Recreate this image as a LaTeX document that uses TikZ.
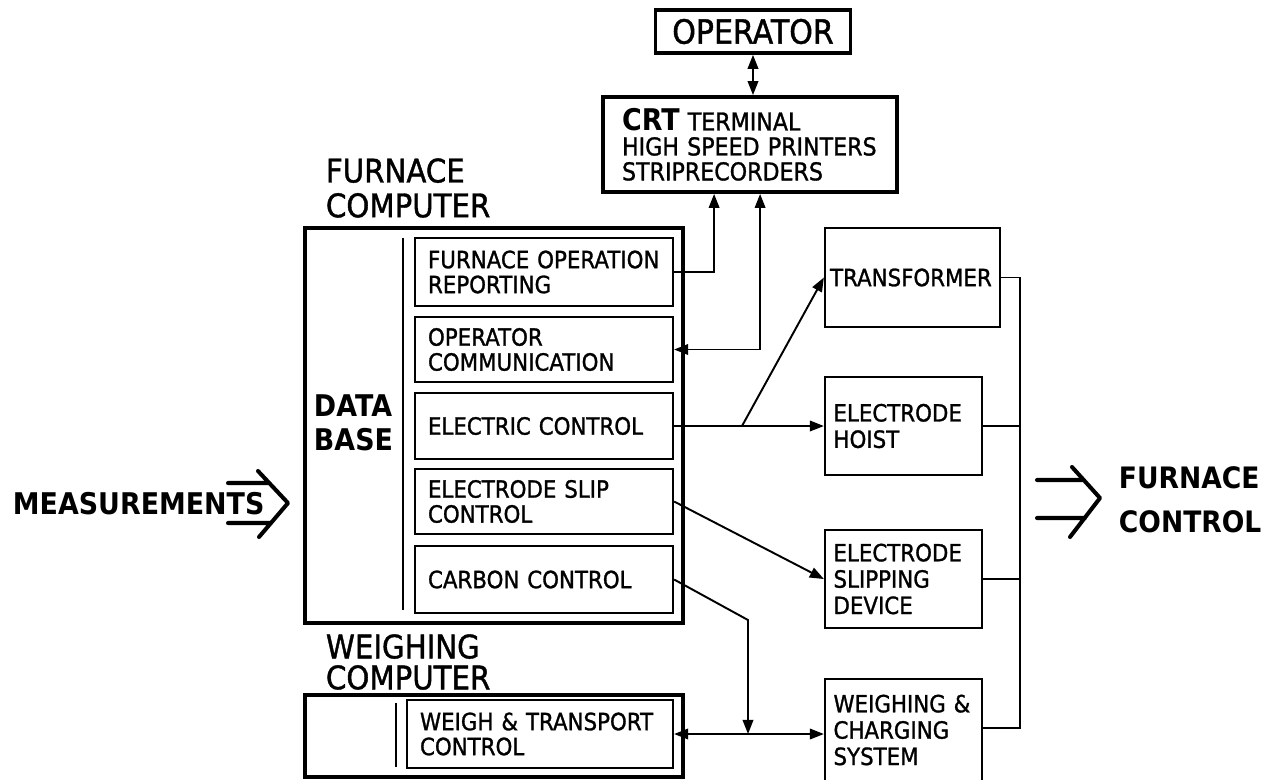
\documentclass[tikz,border=0pt]{standalone}
\usepackage{fontspec}
\setmainfont{DejaVu Sans}[FakeStretch=0.9, UprightFeatures={FakeBold=1.2}]
\usetikzlibrary{arrows.meta}

\begin{document}
\begin{tikzpicture}[x=0.02cm, y=-0.02cm, line width=1.1pt,
  >={Triangle[length=8pt,width=6pt]},
  lbl/.style={font=\fontsize{18.5}{19.8}\selectfont, align=left, inner sep=0pt, anchor=west},
  iolbl/.style={font=\bfseries\fontsize{16.8}{25}\selectfont, align=left, inner sep=0pt, anchor=west},
  compbox/.style={line width=2.4pt},
  subbox/.style={draw, line width=1.3pt, align=left, inner xsep=0.26cm, inner ysep=0pt,
    text width=4.64cm, font=\fontsize{13.5}{14.2}\selectfont},
  plant/.style={draw, line width=1.3pt, align=left, inner xsep=0.17cm, inner ysep=0pt,
    text width=2.8cm, font=\fontsize{13.5}{15}\selectfont},
  hollow/.style={line width=2.3pt, line join=round, line cap=round}]
  \useasboundingbox (0,0) rectangle (1278,779);

  \node[draw, line width=2pt, minimum width=3.9cm, minimum height=0.86cm,
    font=\fontsize{19}{20}\selectfont] (op) at (753,31.5) {OPERATOR};
  \node[draw, line width=2.2pt, minimum width=5.88cm, minimum height=1.9cm, inner xsep=0.38cm,
    text width=5.12cm, align=left, font=\fontsize{14}{14.2}\selectfont] (crt) at (750,144.5)
    {{\bfseries\fontsize{17}{17}\selectfont CRT} TERMINAL\\HIGH SPEED PRINTERS\\STRIPRECORDERS};
  \draw[<->] (op.south) -- (op.south |- crt.north);

  \node[lbl] (fclbl) at (325,188) {FURNACE\\COMPUTER};
  \draw[compbox] (305,228) rectangle (683,623);
  \draw (403,238) -- (403,610);
  \node[iolbl, font=\bfseries\fontsize{17}{19}\selectfont] (db) at (313,423) {DATA\\BASE};
  \foreach \nm/\ya/\yb/\txt in {rep/238/306/{FURNACE OPERATION\\REPORTING},
                                com/317/382/{OPERATOR\\COMMUNICATION},
                                elec/393/459/{ELECTRIC CONTROL},
                                slip/469/534/{ELECTRODE SLIP\\CONTROL},
                                carb/546/613/{CARBON CONTROL}} {
    \node[subbox, minimum width=5.16cm, minimum height={(\yb-\ya)*0.02cm}] (\nm) at (544,{(\ya+\yb)/2}) {\txt};
  }

  \node[lbl, font=\fontsize{18.5}{17.6}\selectfont] (wclbl) at (325,662) {WEIGHING\\COMPUTER};
  \draw[compbox] (305,695) rectangle (683,777);
  \draw (396,703) -- (396,767);
  \node[subbox, text width=4.8cm, minimum width=5.32cm, minimum height=1.36cm] (wtc) at (540,734)
    {WEIGH \& TRANSPORT\\CONTROL};

  \node[plant, text width=3.3cm, inner xsep=0.1cm, minimum height=1.98cm] (trans) at (912.5,277.5) {TRANSFORMER};
  \node[plant, minimum height=1.96cm] (hoist) at (903.5,426) {ELECTRODE\\HOIST};
  \node[plant, minimum height=1.96cm] (slipdev) at (903.5,579) {ELECTRODE\\SLIPPING\\DEVICE};
  \node[plant, inner ysep=0.32cm] (wcs) at (903.5,730) {WEIGHING \&\\CHARGING\\SYSTEM};

  \path (crt.south west) ++(113,0) coordinate (crtA) ++(46,0) coordinate (crtB);
  \draw[->] (rep.east) -| (crtA);
  \draw[<->] (com.east) -| (crtB);
  \coordinate (fork) at (742,426);
  \draw[->] (elec.east) -- (hoist.west);
  \draw[->] (fork) -- (trans.west);
  \draw[->] (slip.east) -- (slipdev.west);
  \coordinate (kink) at (748,620);
  \coordinate (join) at (748,734);
  \draw[->] (carb.east) -- (kink) -- (join);
  \draw[<->] (wtc.east) -- (wtc.east -| wcs.west);

  \coordinate (busB) at (1020,728);
  \draw (trans.east) -| (busB) -- (busB -| wcs.east);
  \draw (hoist.east) -- (hoist.east -| busB);
  \draw (slipdev.east) -- (slipdev.east -| busB);

  \node[iolbl, font=\bfseries\fontsize{17}{18}\selectfont] (meas) at (12,504) {MEASUREMENTS};
  \draw[hollow] (228,483) -- (269,483) (228,523) -- (271,523) (258,471) -- (288,503) -- (259,537);
  \draw[hollow] (1037,480) -- (1083,480) (1037,518) -- (1085,518) (1072,467) -- (1100,498) -- (1070,537);
  \node[iolbl] (fctrl) at (1118,500) {FURNACE\\CONTROL};
\end{tikzpicture}
\end{document}
